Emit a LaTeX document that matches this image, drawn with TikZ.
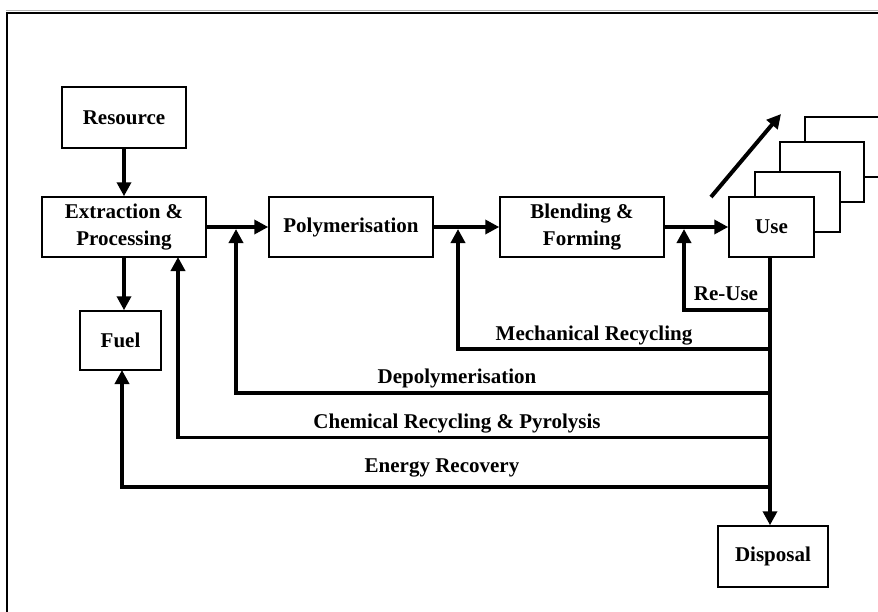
\documentclass[tikz,border=0pt]{standalone}
\usepackage{fontspec}
\setmainfont{Liberation Serif}
\usetikzlibrary{arrows.meta}
\begin{document}
\begin{tikzpicture}[x=1pt,y=-1pt,
  box/.style={draw,line width=1.5pt,fill=white,inner sep=0pt,align=center,
    font=\fontsize{21}{27}\selectfont\bfseries},
  flow/.style={line width=4pt,-{Triangle[length=14pt,width=14pt]}},
  fb/.style={line width=3.5pt,-{Triangle[length=14pt,width=14pt]}},
  lbl/.style={anchor=base,inner sep=0pt,font=\fontsize{21}{25}\selectfont\bfseries},
  stack/.style={draw,line width=1.5pt,fill=white}]
\clip (0,0) rectangle (878,611);
\fill[white] (0,0) rectangle (878,611);
% frame
\draw[gray!60,line width=1pt] (6,10.5) -- (900,10.5);
\draw[line width=2pt] (7,12.5) rectangle (900,640);

% stacked boxes behind Use
\draw[stack] (805,117) rectangle (900,177);
\draw[stack] (780,142) rectangle (864,202);
\draw[stack] (755,172) rectangle (840,232);

% nodes
\node[box,minimum width=124pt,minimum height=61pt] (res) at (124,117.5) {Resource};
\node[box,minimum width=164pt,minimum height=60pt] (ext) at (124,227) {Extraction \&\\Processing};
\node[box,minimum width=81pt,minimum height=59pt] (fuel) at (120.5,340.5) {Fuel};
\node[box,minimum width=164pt,minimum height=60pt] (poly) at (351,227) {Polymerisation};
\node[box,minimum width=164pt,minimum height=60pt] (blend) at (582,227) {Blending \&\\Forming};
\node[box,minimum width=85pt,minimum height=60pt] (use) at (771.5,227) {Use};
\node[box,minimum width=110pt,minimum height=61pt] (disp) at (773,556.5) {Disposal};

% growth arrow
\coordinate (ga) at (711,197);
\coordinate (gb) at (781,114);
\draw[flow] (ga) -- (gb);

% main flow
\draw[flow] (res.south) -- (ext.north);
\draw[flow] (ext.south) -- (ext.south |- fuel.north);
\draw[flow] (ext.east) -- (poly.west);
\draw[flow] (poly.east) -- (blend.west);
\draw[flow] (blend.east) -- (use.west);

% junctions on main line
\coordinate (j1) at (236,229);
\coordinate (j2) at (458,229);
\coordinate (j3) at (684,229);

% vertical collector
\coordinate (vu) at (770,257);
\draw[flow] (use.south -| vu) -- (disp.north -| vu);

% feedback lines
\coordinate (ru) at (768,310);
\coordinate (mr) at (768,349);
\coordinate (dp) at (770,393);
\coordinate (cr) at (770,437.5);
\coordinate (er) at (770,487);
\coordinate (xc) at (178,257);
\coordinate (fc) at (122,370);

\draw[fb] (ru) -| (j3);
\draw[fb] (mr) -| (j2);
\draw[fb] (dp) -| (j1);
\draw[fb] (cr) -| (xc);
\draw[fb] (er) -| (fc);

% labels
\node[lbl] (l1) at (726,300) {Re-Use};
\node[lbl] (l2) at (594,340) {Mechanical Recycling};
\node[lbl] (l3) at (457,383) {Depolymerisation};
\node[lbl] (l4) at (457,428) {Chemical Recycling \& Pyrolysis};
\node[lbl] (l5) at (442,472) {Energy Recovery};
\end{tikzpicture}
\end{document}
